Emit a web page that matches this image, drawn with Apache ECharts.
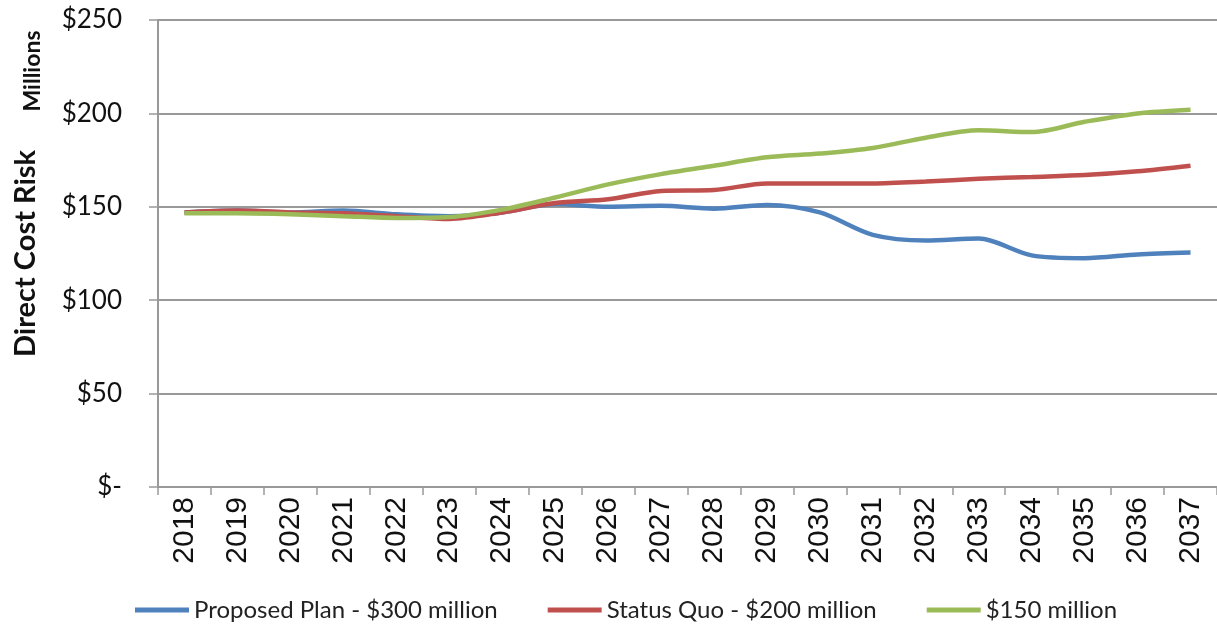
<!DOCTYPE html>
<html>
<head>
<meta charset="utf-8">
<script src="https://cdn.jsdelivr.net/npm/echarts@6/dist/echarts.min.js"></script>
<style>
  html, body { margin: 0; padding: 0; background: #fff; }
  #chart { width: 1217px; height: 631px; }
</style>
</head>
<body>
<div id="chart"></div>
<script>
// data
var years = ['2018', '2019', '2020', '2021', '2022', '2023', '2024', '2025', '2026', '2027',
             '2028', '2029', '2030', '2031', '2032', '2033', '2034', '2035', '2036', '2037'];
var proposedPlan = [147, 148, 147, 148, 146, 145, 147, 151.5, 150, 150.5,
                    149, 151, 147, 135, 132, 133, 124, 122.5, 124.5, 125.5];
var statusQuo = [147, 148, 147, 146.5, 145, 143.5, 147, 152, 154, 158.5,
                 159, 162.5, 162.5, 162.5, 163.5, 165, 166, 167, 169, 172];
var plan150 = [146.5, 146.5, 146, 145, 144, 144.5, 148.5, 155, 162, 167.5,
               172, 176.5, 178.5, 181.5, 187, 191, 190, 195.5, 200, 202];
var seriesNames = ['Proposed Plan - $300 million', 'Status Quo - $200 million', '$150 million'];
var yTicks = [0, 50, 100, 150, 200, 250];

(function () {
    var myChart = echarts.init(document.getElementById('chart'));
    var font = 'Lato, "Open Sans", sans-serif';
    var narrow = '"Liberation Sans Narrow", "Liberation Sans", sans-serif';

    function lineSeries(name, data, color) {
        return {
            name: name,
            type: 'line',
            data: data,
            smooth: 0.3,
            showSymbol: false,
            lineStyle: { color: color, width: 4.5 },
            itemStyle: { color: color }
        };
    }

    var option = {
        animation: false,
        textStyle: { fontFamily: font },
        grid: {
            left: 158,
            top: 20,
            width: 1065,
            height: 467
        },
        legend: {
            bottom: 4,
            left: 130,
            icon: 'rect',
            itemWidth: 54,
            itemHeight: 5,
            itemGap: 50,
            textStyle: { fontSize: 24, color: '#222', fontFamily: font },
            data: seriesNames
        },
        xAxis: {
            type: 'category',
            data: years,
            boundaryGap: true,
            axisLine: { lineStyle: { color: '#999', width: 2 } },
            axisTick: { show: true, length: 8, lineStyle: { color: '#999', width: 1.5 } },
            axisLabel: {
                rotate: 90,
                fontSize: 30,
                fontFamily: narrow,
                color: '#111',
                margin: 10,
                interval: 0
            }
        },
        yAxis: {
            type: 'value',
            min: yTicks[0],
            max: yTicks[yTicks.length - 1],
            interval: 50,
            name: 'Direct Cost Risk',
            nameLocation: 'middle',
            nameRotate: 90,
            nameGap: 118,
            nameTextStyle: { fontSize: 29, fontWeight: 'bold', color: '#111' },
            axisLine: { show: true, lineStyle: { color: '#999', width: 2 } },
            axisTick: { show: true, length: 9, lineStyle: { color: '#999', width: 1.5 } },
            axisLabel: {
                fontSize: 26,
                color: '#111',
                margin: 36,
                formatter: function (v) { return v === 0 ? '$-' : '$' + v; }
            },
            splitLine: { lineStyle: { color: '#999', width: 2 } }
        },
        graphic: [
            {
                type: 'text',
                x: 33,
                y: 71,
                rotation: Math.PI / 2,
                style: {
                    text: 'Millions',
                    fontSize: 23,
                    fontWeight: 'bold',
                    fontFamily: font,
                    fill: '#111',
                    align: 'center',
                    verticalAlign: 'middle'
                }
            }
        ],
        series: [
            lineSeries(seriesNames[0], proposedPlan, '#4F81BD'),
            lineSeries(seriesNames[1], statusQuo, '#C0504D'),
            lineSeries(seriesNames[2], plan150, '#9BBB59')
        ]
    };

    myChart.setOption(option);
})();
</script>
</body>
</html>
